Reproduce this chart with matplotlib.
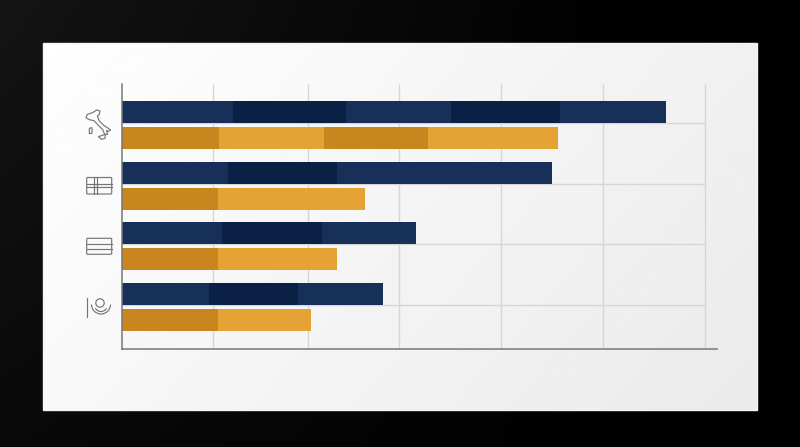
import numpy as np
import matplotlib
matplotlib.use("Agg")
import matplotlib.pyplot as plt
from matplotlib.patches import Polygon, FancyBboxPatch, Circle, Arc, Rectangle

# Segment lengths per bar (no labels in the source; units are arbitrary)
navy_segments = [
    [111, 113, 105, 109, 106],
    [106, 109, 215],
    [100, 100, 94],
    [87, 89, 85],
]
orange_segments = [
    [97, 105, 104, 130],
    [96, 147],
    [96, 119],
    [96, 93],
]
x_grid = [91, 186, 277, 379, 481, 583]
y_grid = [-0.025, 0.975, 1.965, 2.975]

NAVY = ["#16305a", "#0a2044"]
ORANGE = ["#c9861f", "#e5a336"]
W, H = 800, 447
fig = plt.figure(figsize=(W / 100, H / 100), dpi=100)

# backdrop: dark gradient, lighter towards the upper left
bg = fig.add_axes([0, 0, 1, 1])
yy, xx = np.mgrid[0:1:200j, 0:1:300j]
shade = 0.08 * np.clip(1 - xx / 0.8, 0, 1) * (1 - 0.55 * yy)
bg.imshow(shade, cmap="gray", vmin=0, vmax=1, extent=[0, W, H, 0], aspect="auto")
panel = 0.998 - 0.055 * xx - 0.025 * yy
bg.imshow(panel, cmap="gray", vmin=0, vmax=1, extent=[43, 757, 410, 43], aspect="auto")
bg.add_patch(Rectangle((43, 43), 714, 367, fill=False, ec="#f4f4f4", lw=1.0))
bg.set_xlim(0, W)
bg.set_ylim(H, 0)
bg.axis("off")

# chart
L, R, T, B = 122, 717, 84, 349
ax = fig.add_axes([L / W, 1 - B / H, (R - L) / W, (B - T) / H])
ax.patch.set_alpha(0)
ax.set_xlim(0, R - L)
step = 60.5
ax.set_ylim((B - 125) / step, (T - 125) / step)
for s in ("top", "right"):
    ax.spines[s].set_visible(False)
for s in ("left", "bottom"):
    ax.spines[s].set_color("#777777")
    ax.spines[s].set_linewidth(1.1)
ax.set_xticks([])
ax.set_yticks([])
ax.vlines(x_grid, (B - 125) / step, (T - 125) / step, color="#d6d6d6", lw=1.0, zorder=1)
ax.hlines(y_grid, 0, x_grid[-1], color="#d6d6d6", lw=1.0, zorder=1)

h = 22 / step
off = 13 / step
for i, (nav, ora) in enumerate(zip(navy_segments, orange_segments)):
    left = 0
    for j, v in enumerate(nav):
        ax.barh(i - off, v, height=h, left=left, color=NAVY[j % 2], lw=0, zorder=2)
        left += v
    left = 0
    for j, v in enumerate(ora):
        ax.barh(i + off, v, height=h, left=left, color=ORANGE[j % 2], lw=0, zorder=2)
        left += v

# pictograms, in figure pixels
ic = fig.add_axes([0, 0, 1, 1])
ic.patch.set_alpha(0)
ic.set_xlim(0, W)
ic.set_ylim(H, 0)
ic.axis("off")
C = "#757575"
LW = 0.85
def zpts(pts):
    return [(80 + a / 3, 105 + b / 3) for a, b in pts]
boot = [(18,38),(22,28),(38,23),(50,15),(60,18),(58,28),(52,33),(58,48),(70,60),(92,75),(85,79),(79,76),(83,88),(74,88),(68,74),(54,60),(42,47),(28,44)]
ic.add_patch(Polygon(zpts(boot), closed=True, fill=False, ec=C, lw=LW))
ic.add_patch(Polygon(zpts([(55,95),(76,88),(75,100),(65,103)]), closed=True, fill=False, ec=C, lw=LW))
ic.add_patch(Polygon(zpts([(28,70),(36,68),(36,85),(28,86)]), closed=True, fill=False, ec=C, lw=LW))
def rr(x0, y0, x1, y1):
    ic.add_patch(FancyBboxPatch((x0, y0), x1 - x0, y1 - y0, boxstyle="round,pad=0,rounding_size=1", fill=False, ec=C, lw=LW))
# flag with cross
rr(86.7, 177.5, 111.7, 194)
for x in (94.3, 97.3):
    ic.plot([x, x], [177.5, 194], color=C, lw=LW)
for y in (184.3, 186.7):
    ic.plot([86.7, 111.7], [y, y], color=C, lw=LW)
# banded flag
rr(86.7, 238.3, 111.7, 254.3)
for y in (244.3, 249):
    ic.plot([86.7, 111.7], [y, y], color=C, lw=LW)
# emblem
ic.plot([86.7, 86.7], [297.5, 317], color=C, lw=LW)
ic.add_patch(Circle((100, 303), 4.2, fill=False, ec=C, lw=LW))
ic.add_patch(Arc((101, 304.5), 19, 19, theta1=0, theta2=180, ec=C, lw=LW))
ic.add_patch(Arc((101, 305), 13, 13, theta1=30, theta2=150, ec=C, lw=LW))

fig.savefig("out.png", dpi=100)
